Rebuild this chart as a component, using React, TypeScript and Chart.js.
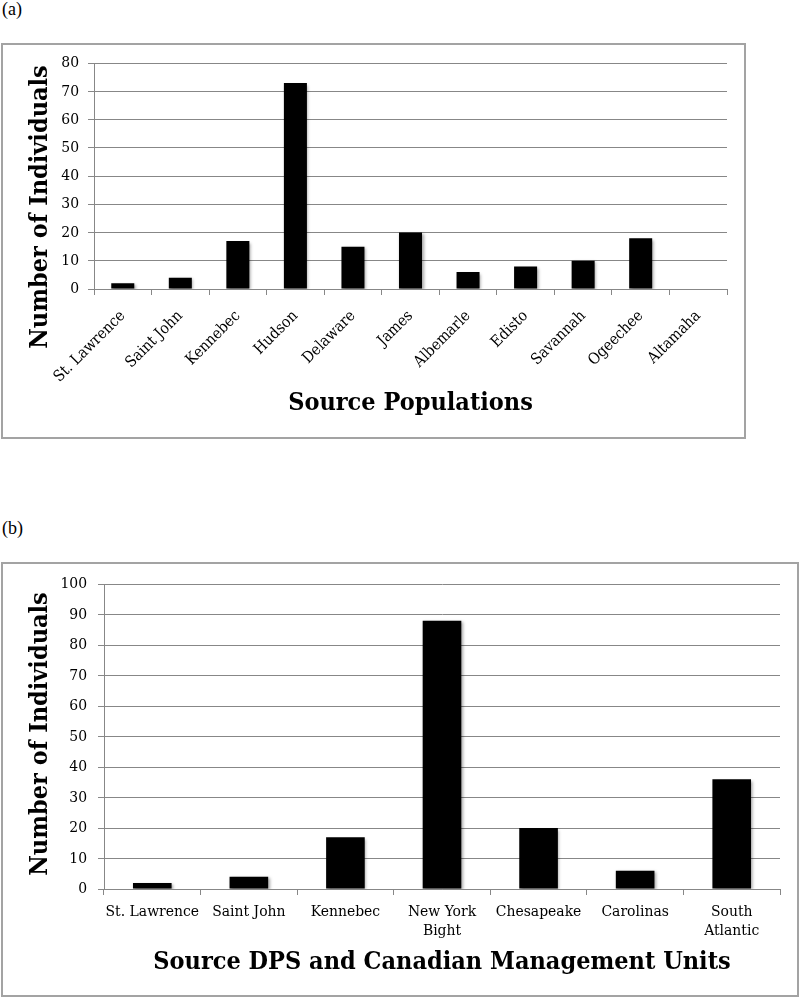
import React, { useEffect, useRef } from 'react';
import { Chart, registerables } from 'chart.js';

Chart.register(...registerables);

// ---- Data ----
const popLabels = ['St. Lawrence', 'Saint John', 'Kennebec', 'Hudson', 'Delaware', 'James', 'Albemarle', 'Edisto', 'Savannah', 'Ogeechee', 'Altamaha'];
const popValues = [2, 4, 17, 73, 15, 20, 6, 8, 10, 18, 0];
const popAxisMax = 80;
const popStep = 10;

const dpsLabels = ['St. Lawrence', 'Saint John', 'Kennebec', ['New York', 'Bight'], 'Chesapeake', 'Carolinas', ['South', 'Atlantic']];
const dpsValues = [2, 4, 17, 88, 20, 6, 36];
const dpsAxisMax = 100;
const dpsStep = 10;

const yTitleText = 'Number of Individuals';
const popXTitle = 'Source Populations';
const dpsXTitle = 'Source DPS and Canadian Management Units';

// ---- Styles ----
const FAMILY = '"DejaVu Serif Condensed", "DejaVu Serif", serif';
const GRID = '#878787';
const FRAME = '#a3a3a3';
const tickFont = { family: FAMILY, size: 15.5 };
const titleFont = { family: FAMILY, size: 25, weight: 'bold' as const };

const yTitlePlugin = {
  id: 'yTitle',
  afterDraw(chart: any, _args: any, opts: any) {
    const { ctx } = chart;
    ctx.save();
    ctx.translate(opts.x, opts.y);
    ctx.rotate(-Math.PI / 2);
    ctx.font = `bold ${titleFont.size}px ${FAMILY}`;
    ctx.fillStyle = '#000';
    ctx.textAlign = 'center';
    ctx.textBaseline = 'middle';
    ctx.fillText(opts.text, 0, 0);
    ctx.restore();
  },
};

const shadowPlugin = {
  id: 'barShadow',
  beforeDatasetsDraw(chart: any) {
    const c = chart.ctx;
    c.save();
    c.shadowColor = 'rgba(0,0,0,0.35)';
    c.shadowBlur = 3;
    c.shadowOffsetX = 1.5;
    c.shadowOffsetY = 1.5;
  },
  afterDatasetsDraw(chart: any) {
    chart.ctx.restore();
  },
};

type Cfg = {
  labels: any[];
  values: number[];
  max: number;
  step: number;
  xTitle: string;
  rotate: boolean;
  yAxisWidth: number;
  xAxisHeight: number;
  rightPad: number;
  topPad: number;
  xTitlePad: number;
  yTitleX: number;
  yTitleY: number;
  yTickPad: number;
  xTickPad: number;
};

function BarChart({ cfg, width, height, left, top }: { cfg: Cfg; width: number; height: number; left: number; top: number }) {
  const ref = useRef<HTMLCanvasElement | null>(null);
  useEffect(() => {
    if (!ref.current) return;
    const chart = new Chart(ref.current, {
      type: 'bar',
      data: {
        labels: cfg.labels,
        datasets: [
          {
            data: cfg.values,
            backgroundColor: '#000',
            borderWidth: 0,
            barPercentage: 0.4,
            categoryPercentage: 1.0,
          },
        ],
      },
      options: {
        responsive: false,
        animation: false,
        devicePixelRatio: 1,
        layout: { padding: { top: cfg.topPad, right: cfg.rightPad, left: 0, bottom: 0 } },
        plugins: {
          legend: { display: false },
          tooltip: { enabled: false },
          yTitle: { text: yTitleText, x: cfg.yTitleX, y: cfg.yTitleY },
        } as any,
        scales: {
          x: {
            grid: { display: true, drawOnChartArea: false, drawTicks: true, tickLength: 6, color: GRID, offset: true },
            border: { display: true, color: GRID, width: 1 },
            ticks: {
              color: '#000',
              font: tickFont,
              autoSkip: false,
              minRotation: cfg.rotate ? 45 : 0,
              maxRotation: cfg.rotate ? 45 : 0,
              padding: cfg.xTickPad,
            },
            title: { display: true, text: cfg.xTitle, color: '#000', font: titleFont, padding: { top: 0, bottom: cfg.xTitlePad } },
            afterFit: (s: any) => {
              s.height = cfg.xAxisHeight;
            },
          },
          y: {
            min: 0,
            max: cfg.max,
            ticks: { stepSize: cfg.step, color: '#000', font: tickFont, padding: cfg.yTickPad },
            grid: { color: GRID, tickLength: 6, drawTicks: true, lineWidth: 1 },
            border: { display: true, color: GRID, width: 1 },
            afterFit: (s: any) => {
              s.width = cfg.yAxisWidth;
            },
          },
        },
      },
      plugins: [yTitlePlugin, shadowPlugin],
    });
    return () => chart.destroy();
  }, []);
  return <canvas ref={ref} width={width} height={height} style={{ position: 'absolute', left, top, width, height }} />;
}

const cfgA: Cfg = {
  labels: popLabels,
  values: popValues,
  max: popAxisMax,
  step: popStep,
  xTitle: popXTitle,
  rotate: true,
  yAxisWidth: 91,
  xAxisHeight: 148,
  rightPad: 17,
  topPad: 17,
  xTitlePad: 19,
  yTitleX: 37,
  yTitleY: 162,
  yTickPad: 9,
  xTickPad: 12,
};

const cfgB: Cfg = {
  labels: dpsLabels,
  values: dpsValues,
  max: dpsAxisMax,
  step: dpsStep,
  xTitle: dpsXTitle,
  rotate: false,
  yAxisWidth: 101,
  xAxisHeight: 106,
  rightPad: 17,
  topPad: 17,
  xTitlePad: 18,
  yTitleX: 37,
  yTitleY: 170,
  yTickPad: 11,
  xTickPad: 8,
};

export default function App() {
  const labelStyle: React.CSSProperties = {
    position: 'absolute',
    left: 2,
    fontFamily: '"Liberation Serif", serif',
    fontSize: 18,
    lineHeight: '20px',
    color: '#000',
  };
  return (
    <div style={{ position: 'absolute', left: 0, top: 0, width: 800, height: 1000, background: '#fff' }}>
      <div style={{ ...labelStyle, top: -1 }}>(a)</div>
      <div style={{ position: 'absolute', left: 1, top: 43, width: 745, height: 396, border: `2px solid ${FRAME}`, boxSizing: 'border-box' }} />
      <BarChart cfg={cfgA} width={741} height={392} left={3} top={45} />
      <div style={{ ...labelStyle, top: 518 }}>(b)</div>
      <div style={{ position: 'absolute', left: 1, top: 562, width: 798, height: 435, border: `2px solid ${FRAME}`, boxSizing: 'border-box' }} />
      <BarChart cfg={cfgB} width={794} height={431} left={3} top={564} />
    </div>
  );
}
